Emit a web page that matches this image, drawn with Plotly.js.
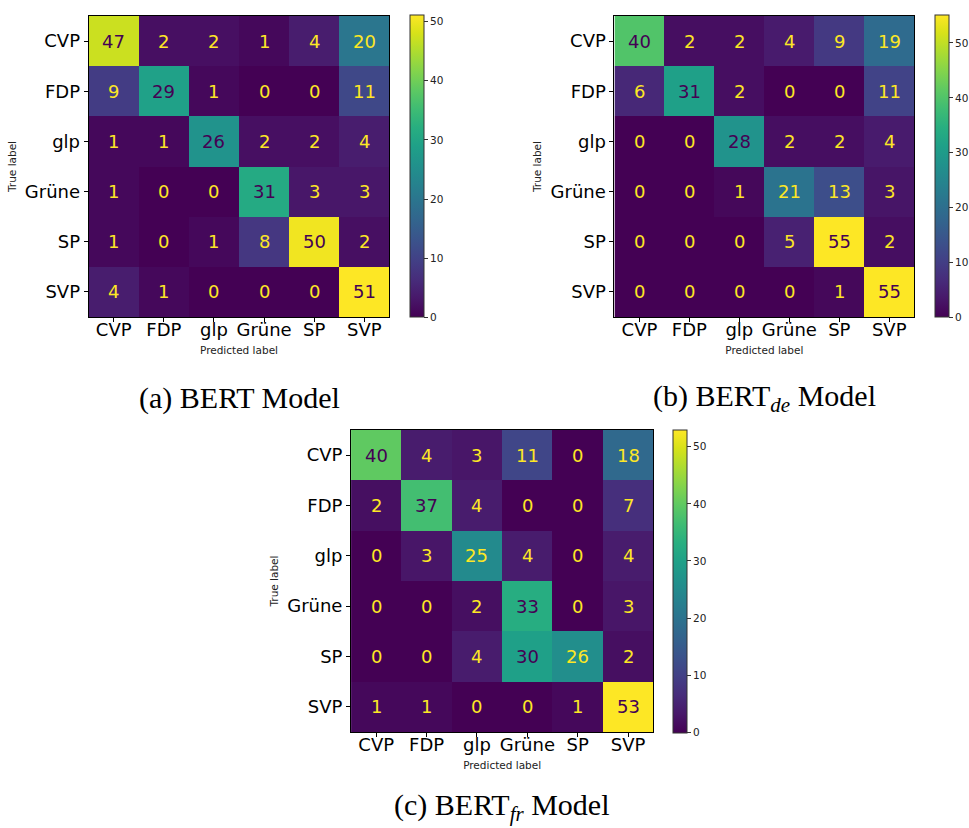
<!DOCTYPE html>
<html>
<head>
<meta charset="utf-8">
<script src="https://cdn.plot.ly/plotly-3.0.1.min.js"></script>
<style>html,body{margin:0;padding:0;background:#fff;}#chart{width:969px;height:828px;}</style>
</head>
<body>
<div id="chart"></div>
<script>
const labels = ["CVP", "FDP", "glp", "Grüne", "SP", "SVP"];

const bertValues = [
  [47, 2, 2, 1, 4, 20],
  [9, 29, 1, 0, 0, 11],
  [1, 1, 26, 2, 2, 4],
  [1, 0, 0, 31, 3, 3],
  [1, 0, 1, 8, 50, 2],
  [4, 1, 0, 0, 0, 51]
];

const bertDeValues = [
  [40, 2, 2, 4, 9, 19],
  [6, 31, 2, 0, 0, 11],
  [0, 0, 28, 2, 2, 4],
  [0, 0, 1, 21, 13, 3],
  [0, 0, 0, 5, 55, 2],
  [0, 0, 0, 0, 1, 55]
];

const bertFrValues = [
  [40, 4, 3, 11, 0, 18],
  [2, 37, 4, 0, 0, 7],
  [0, 3, 25, 4, 0, 4],
  [0, 0, 2, 33, 0, 3],
  [0, 0, 4, 30, 26, 2],
  [1, 1, 0, 0, 1, 53]
];

const captions = ["(a) BERT Model", "(b) BERT<sub><i>de</i></sub> Model", "(c) BERT<sub><i>fr</i></sub> Model"];

const W = 969, H = 828;
const px = v => v / W;
const py = v => 1 - v / H;

const panels = [
  {z: bertValues, x0: 89, x1: 391, y0: 16, y1: 317, cbx: 411.5, cap: [240, 398]},
  {z: bertDeValues, x0: 617, x1: 918, y0: 16, y1: 317, cbx: 938.5, cap: [768, 398]},
  {z: bertFrValues, x0: 352.5, x1: 656, y0: 430, y1: 732, cbx: 676, cap: [504, 807]}
];

const tickFont = {family: "DejaVu Sans", size: 18, color: "#000"};
const smallFont = {family: "DejaVu Sans", size: 10.5, color: "#222"};

const data = [];
const layout = {
  width: W, height: H,
  margin: {l: 0, r: 0, t: 0, b: 0},
  paper_bgcolor: "#fff", plot_bgcolor: "#fff",
  showlegend: false,
  annotations: []
};

panels.forEach((p, i) => {
  const n = i + 1;
  const xa = n === 1 ? "xaxis" : "xaxis" + n;
  const ya = n === 1 ? "yaxis" : "yaxis" + n;
  const xr = n === 1 ? "x" : "x" + n;
  const yr = n === 1 ? "y" : "y" + n;
  let zmax = 0, zmin = Infinity;
  p.z.forEach(r => r.forEach(v => { zmax = Math.max(zmax, v); zmin = Math.min(zmin, v); }));
  data.push({
    type: "heatmap",
    z: p.z, x: labels, y: labels,
    xaxis: xr, yaxis: yr,
    colorscale: "Viridis",
    zmin: zmin, zmax: zmax,
    xgap: 0, ygap: 0,
    hoverinfo: "skip",
    colorbar: {
      x: px(p.cbx), xanchor: "left", xpad: 0,
      y: (py(p.y0) + py(p.y1)) / 2, yanchor: "middle", ypad: 0,
      len: (p.y1 - p.y0 + 1) / H, lenmode: "fraction",
      thickness: 14, thicknessmode: "pixels",
      outlinewidth: 1, outlinecolor: "#333",
      ticks: "outside", ticklen: 4, tickcolor: "#333",
      tick0: 0, dtick: 10,
      tickfont: smallFont
    }
  });
  layout[xa] = {
    domain: [px(p.x0), px(p.x1)],
    anchor: yr,
    type: "category",
    categoryorder: "array", categoryarray: labels,
    tickfont: tickFont,
    ticks: "outside", ticklen: 4, tickcolor: "#000",
    ticklabelstandoff: -8,
    showline: true, linecolor: "#000", linewidth: 1, mirror: true,
    showgrid: false, zeroline: false,
    title: {text: "Predicted label", font: smallFont, standoff: 8}
  };
  layout[ya] = {
    domain: [py(p.y1), py(p.y0)],
    anchor: xr,
    type: "category",
    categoryorder: "array", categoryarray: labels,
    autorange: "reversed",
    tickfont: tickFont,
    ticks: "outside", ticklen: 4, tickcolor: "#000",
    showline: true, linecolor: "#000", linewidth: 1, mirror: true,
    showgrid: false, zeroline: false,
    title: {text: "True label", font: smallFont, standoff: 6}
  };
  const thresh = (zmax + zmin) / 2;
  p.z.forEach((row, r) => row.forEach((v, c) => {
    layout.annotations.push({
      xref: xr, yref: yr, x: labels[c], y: labels[r],
      text: String(v), showarrow: false,
      font: {family: "DejaVu Sans", size: 18, color: v < thresh ? "#fde725" : "#440154"}
    });
  }));
  layout.annotations.push({
    xref: "paper", yref: "paper", x: px(p.cap[0]), y: py(p.cap[1]),
    xanchor: "center", yanchor: "middle",
    text: captions[i], showarrow: false,
    font: {family: "Liberation Serif", size: 30, color: "#000"}
  });
});

Plotly.newPlot("chart", data, layout, {staticPlot: true, displayModeBar: false});
</script>
</body>
</html>
